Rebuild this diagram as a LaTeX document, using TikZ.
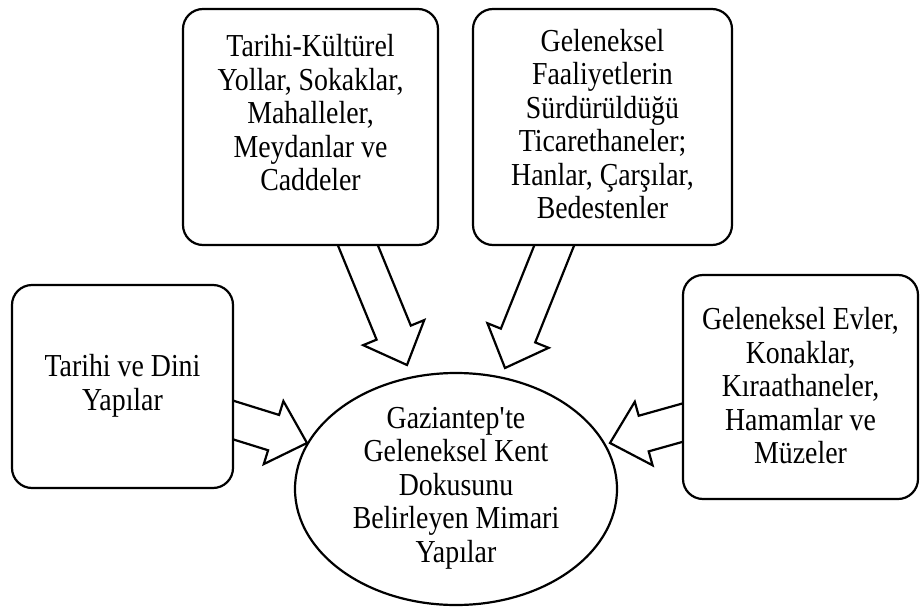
\documentclass[tikz,border=0pt]{standalone}
\usepackage{fontspec}
\setmainfont{Liberation Serif}[FakeStretch=0.87]
\usetikzlibrary{calc,shapes.geometric}
\pgfdeclarelayer{bg}
\pgfsetlayers{bg,main}
\tikzset{
  boxst/.style={draw, line width=2.2pt, fill=white, rounded corners=20pt, inner sep=0pt},
  txt/.style={align=center, inner sep=0pt, font=\fontsize{32}{33.5}\selectfont},
  ellst/.style={ellipse, draw, line width=2.2pt, fill=white, inner sep=0pt},
  barrow/.style={draw, line width=2.2pt, fill=white, line join=miter}
}
\newcommand\blockarrow[2]{%
  \coordinate (hb) at ($(#2)!35pt!(#1)$);
  \draw[barrow] ($(#1)!18.5pt!90:(#2)$) -- ($(hb)!18.5pt!90:(#2)$) -- ($(hb)!33pt!90:(#2)$) -- (#2)
     -- ($(hb)!33pt!-90:(#2)$) -- ($(hb)!18.5pt!-90:(#2)$) -- ($(#1)!18.5pt!-90:(#2)$) -- cycle;}
\begin{document}
\begin{tikzpicture}[x=1pt,y=-1pt]
\useasboundingbox (0,0) rectangle (921,613);
% boxes
\node[boxst, minimum width=221pt, minimum height=203pt] (lb) at (122.5,386.5) {};
\node[txt] (lbt) at (122.5,386) {Tarihi ve Dini\\Yapılar};
\node[boxst, minimum width=255pt, minimum height=236pt] (tm) at (310.5,127) {};
\node[txt] (tmt) at (310.5,113) {Tarihi-Kültürel\\Yollar, Sokaklar,\\Mahalleler,\\Meydanlar ve\\Caddeler};
\node[boxst, minimum width=259pt, minimum height=236pt] (tr) at (602.5,127) {};
\node[txt] (trt) at (602.5,124) {Geleneksel\\Faaliyetlerin\\Sürdürüldüğü\\Ticarethaneler;\\Hanlar, Çarşılar,\\Bedestenler};
\node[boxst, minimum width=235pt, minimum height=224pt] (rb) at (800.5,387) {};
\node[txt] (rbt) at (800.5,386) {Geleneksel Evler,\\Konaklar,\\Kıraathaneler,\\Hamamlar ve\\Müzeler};
\node[ellst, minimum width=322pt, minimum height=232pt] (el) at (456,489) {};
\node[txt] (elt) at (456,488) {Gaziantep\textquotesingle te\\Geleneksel Kent\\Dokusunu\\Belirleyen Mimari\\Yapılar};
% arrows
\coordinate (a1s) at (352,231);  \coordinate (a1t) at (407,365);
\coordinate (a2s) at (560,231);  \coordinate (a2t) at (505,368);
\coordinate (a3s) at (219,415.6); \coordinate (a3t) at (307,443);
\coordinate (a4s) at (697,418.6); \coordinate (a4t) at (610,443);
\begin{pgfonlayer}{bg}
\blockarrow{a1s}{a1t}
\blockarrow{a2s}{a2t}
\blockarrow{a3s}{a3t}
\blockarrow{a4s}{a4t}
\end{pgfonlayer}
\end{tikzpicture}
\end{document}
